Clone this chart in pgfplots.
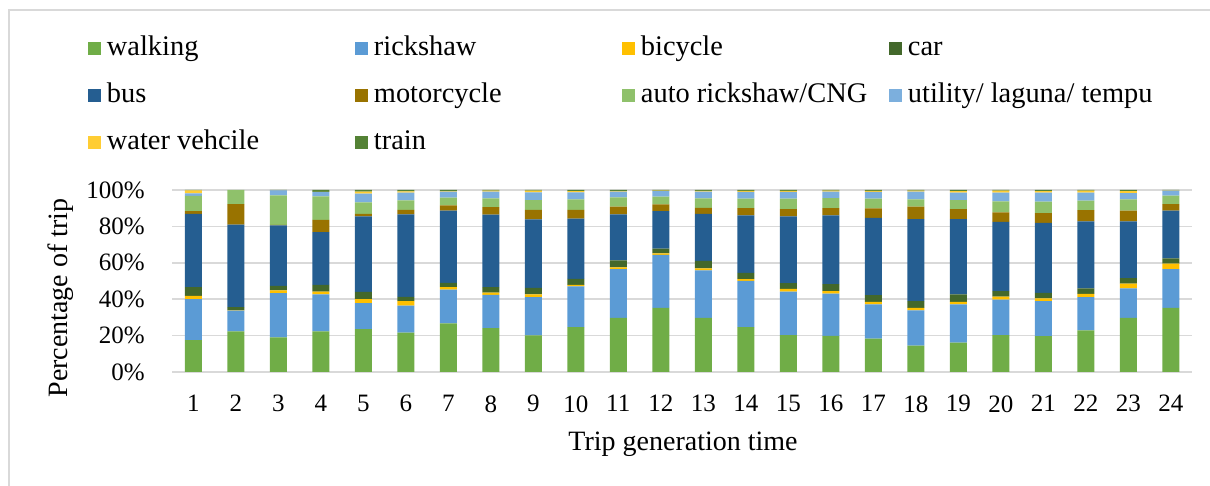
\documentclass[border=0pt]{standalone}
\usepackage{fontspec}
\setmainfont{Liberation Serif}
\usepackage{pgfplots}
\usepackage{pgfplotstable}
\pgfplotsset{compat=1.18}

\definecolor{cWalk}{HTML}{70AD47}
\definecolor{cRick}{HTML}{5B9BD5}
\definecolor{cBicy}{HTML}{FFC000}
\definecolor{cCar}{HTML}{43682B}
\definecolor{cBus}{HTML}{255E91}
\definecolor{cMoto}{HTML}{997300}
\definecolor{cAuto}{HTML}{8FC16B}
\definecolor{cUtil}{HTML}{7CAFDD}
\definecolor{cWater}{HTML}{FFCD33}
\definecolor{cTrain}{HTML}{548235}
\definecolor{gridgray}{HTML}{D9D9D9}

% share of trips (%) by mode, per trip generation time
\pgfplotstableread{
t  walk rick bicy car bus  moto auto util water train
1  17.5 22.5 1.8 4.8 40.3 1.5  8.3  1.5  1.6  0.2
2  22.3 11.4 0.2 1.8 45.3 11.3 7.7  0.0  0.0  0.0
3  19.0 24.3 1.6 2.4 33.2 0.3  16.3 2.7  0.0  0.2
4  22.3 20.4 1.5 3.7 28.9 6.8  12.9 2.4  0.1  1.0
5  23.6 14.2 2.3 3.9 41.5 1.4  6.3  4.8  1.1  0.9
6  21.7 14.8 2.4 2.4 45.3 2.5  5.2  4.2  0.8  0.7
7  26.7 18.6 1.3 2.4 39.6 2.9  4.3  3.3  0.3  0.6
8  24.1 18.3 1.2 3.0 39.8 4.2  4.8  3.7  0.5  0.4
9  20.1 21.0 1.6 3.5 37.6 5.3  5.4  4.2  0.9  0.4
10 24.7 22.4 0.8 3.3 33.0 4.9  5.7  3.9  0.7  0.6
11 29.7 26.8 1.0 3.8 25.3 4.2  5.1  3.2  0.3  0.6
12 35.2 29.1 0.9 2.6 20.6 3.7  4.2  3.1  0.3  0.3
13 29.7 26.1 1.1 4.1 25.9 3.3  5.2  3.7  0.4  0.5
14 24.7 25.4 0.9 3.5 31.5 4.1  5.1  3.7  0.6  0.5
15 20.3 23.9 1.5 3.1 36.7 4.0  5.7  3.7  0.6  0.5
16 19.9 23.2 1.3 3.9 37.7 4.1  5.5  3.5  0.5  0.4
17 18.4 18.8 1.3 3.7 42.5 5.2  5.3  3.7  0.6  0.5
18 14.5 19.4 1.3 3.8 45.0 6.8  4.0  4.3  0.5  0.4
19 16.2 21.0 1.3 4.2 41.3 5.5  5.0  4.0  0.9  0.6
20 20.3 19.5 1.6 3.0 38.1 5.2  6.0  4.8  1.1  0.4
21 19.7 19.2 1.6 3.0 38.5 5.3  6.3  4.9  0.9  0.6
22 22.8 18.3 1.8 3.0 36.8 6.2  5.2  4.4  1.1  0.4
23 29.8 16.2 2.6 3.0 31.1 5.9  6.2  3.5  1.1  0.6
24 35.2 21.3 3.0 2.9 26.2 3.7  4.6  2.7  0.2  0.2
}\tripdata

\newcommand{\legtext}[1]{\makebox[121pt][l]{\rmfamily #1}}

\begin{document}
\begin{tikzpicture}
\path[use as bounding box] (0,0) rectangle (605pt,243pt);
\draw[gridgray, line width=0.75pt] (4.5pt,0) -- (4.5pt,238pt) -- (605pt,238pt);
\begin{axis}[
    at={(86pt,57pt)}, anchor=south west,
    scale only axis,
    width=510pt, height=91pt,
    ybar stacked,
    bar width=8.5pt,
    xmin=0.5, xmax=24.5,
    ymin=0, ymax=100,
    xtick={1,...,24},
    ytick={0,20,...,100},
    yticklabel={\pgfmathprintnumber{\tick}\%},
    /pgf/number format/assume math mode=true,
    major tick length=0pt,
    axis line style={draw=none},
    ymajorgrids=true,
    grid style={gridgray, line width=0.75pt},
    tick label style={font=\rmfamily\fontsize{12.5}{14}\selectfont},
    yticklabel style={anchor=east, inner sep=0pt, xshift=-13.5pt},
    xticklabel style={anchor=north, inner sep=0pt, yshift=-11.5pt},
    xlabel={Trip generation time},
    ylabel={Percentage of trip},
    label style={font=\rmfamily\fontsize{14}{16}\selectfont},
    xlabel style={at={(axis description cs:0.501,-0.396)}, anchor=center},
    ylabel style={at={(axis description cs:-0.109,0.407)}, anchor=center},
    legend columns=4,
    legend style={
        at={(axis description cs:-0.0824,1.5165)}, anchor=west,
        draw=none, fill=none, inner sep=0pt, outer sep=0pt,
        font=\rmfamily\fontsize{14.2}{16}\selectfont,
        row sep=10.6pt,
        cells={anchor=west},
        nodes={inner xsep=3pt, inner ysep=0pt, text height=9.8pt, text depth=3.1pt},
    },
    legend image code/.code={\fill[#1] (0pt,-3.25pt) rectangle (6.5pt,3.25pt);},
]
\addplot[fill=cWalk, draw=none] table[x=t, y=walk] {\tripdata};
\addlegendentry{\legtext{walking}}
\addplot[fill=cRick, draw=none] table[x=t, y=rick] {\tripdata};
\addlegendentry{\legtext{rickshaw}}
\addplot[fill=cBicy, draw=none] table[x=t, y=bicy] {\tripdata};
\addlegendentry{\legtext{bicycle}}
\addplot[fill=cCar, draw=none] table[x=t, y=car] {\tripdata};
\addlegendentry{\legtext{car}}
\addplot[fill=cBus, draw=none] table[x=t, y=bus] {\tripdata};
\addlegendentry{\legtext{bus}}
\addplot[fill=cMoto, draw=none] table[x=t, y=moto] {\tripdata};
\addlegendentry{\legtext{motorcycle}}
\addplot[fill=cAuto, draw=none] table[x=t, y=auto] {\tripdata};
\addlegendentry{\legtext{auto rickshaw/CNG}}
\addplot[fill=cUtil, draw=none] table[x=t, y=util] {\tripdata};
\addlegendentry{\legtext{utility/ laguna/ tempu}}
\addplot[fill=cWater, draw=none] table[x=t, y=water] {\tripdata};
\addlegendentry{\legtext{water vehcile}}
\addplot[fill=cTrain, draw=none] table[x=t, y=train] {\tripdata};
\addlegendentry{\legtext{train}}
\end{axis}
\end{tikzpicture}
\end{document}
